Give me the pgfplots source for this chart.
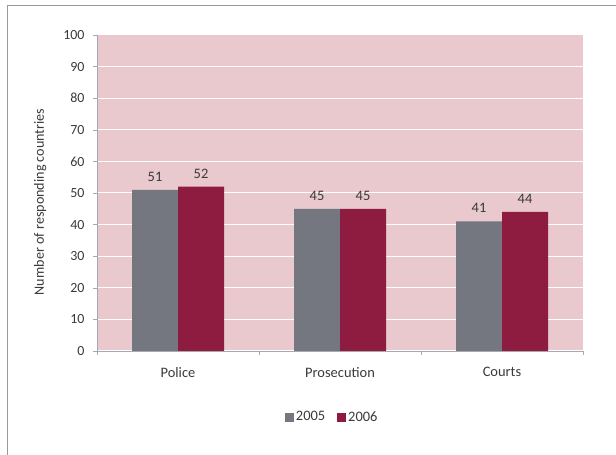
\documentclass[border=0pt]{standalone}
\usepackage{pgfplots}
\pgfplotsset{compat=1.18}
\usepackage{fontspec}
\setmainfont{Carlito}
\definecolor{pinkbg}{HTML}{E9C9CD}
\definecolor{bargray}{HTML}{747780}
\definecolor{barred}{HTML}{8E1C40}
\definecolor{txt}{HTML}{3A3A3A}
\definecolor{axgray}{HTML}{A8A8B0}
\begin{document}
\begin{tikzpicture}
\path[use as bounding box] (0,0) rectangle (616bp,455bp);
\draw[color=gray!80, line width=1bp] (7.5bp,0) -- (7.5bp,449bp) -- (616bp,449bp);
\begin{axis}[
  at={(97bp,104bp)}, anchor=south west,
  scale only axis, width=486bp, height=316bp,
  font=\fontsize{14.5}{17}\selectfont\color{txt},
  ybar=0pt, bar width=46bp,
  xmin=-0.5, xmax=2.5, ymin=0, ymax=100,
  xtick={0,1,2}, xticklabels={Police,Prosecution,Courts},
  minor xtick={-0.5,0.5,1.5,2.5},
  ytick={0,10,...,100},
  major x tick style={draw=none},
  minor x tick style={axgray},
  y tick style={axgray},
  tick align=outside, major tick length=4bp, minor tick length=4bp,
  axis lines*=left,
  axis line style={axgray, line width=0.8bp},
  axis background/.style={fill=pinkbg},
  ymajorgrids, grid style={white, line width=1bp},
  /pgf/number format/assume math mode=true,
  yticklabel style={font=\fontsize{14}{16}\selectfont\color{txt}, xshift=-5bp},
  xticklabel style={font=\fontsize{14.5}{17}\selectfont\color{txt}, yshift=-9bp},
  ylabel={Number of responding countries},
  ylabel style={font=\fontsize{14.2}{16}\selectfont\color{txt}, at={(axis description cs:-0.117,0.472)}, anchor=center},
  nodes near coords,
  every node near coord/.append style={font=\fontsize{14.5}{17}\selectfont\color{txt}, yshift=5bp},
  legend style={at={(axis description cs:0.484,-0.209)}, anchor=center, draw=none, fill=none,
    font=\fontsize{14.5}{17}\selectfont\color{txt}, legend columns=2,
    /tikz/every even column/.append style={column sep=10bp}},
  legend image code/.code={\fill[#1] (0bp,-4.5bp) rectangle (9bp,4.5bp);},
]
\addplot[fill=bargray, draw=none] coordinates {(0,51) (1,45) (2,41)};
\addplot[fill=barred, draw=none] coordinates {(0,52) (1,45) (2,44)};
\legend{2005,2006}
\end{axis}
\end{tikzpicture}
\end{document}
